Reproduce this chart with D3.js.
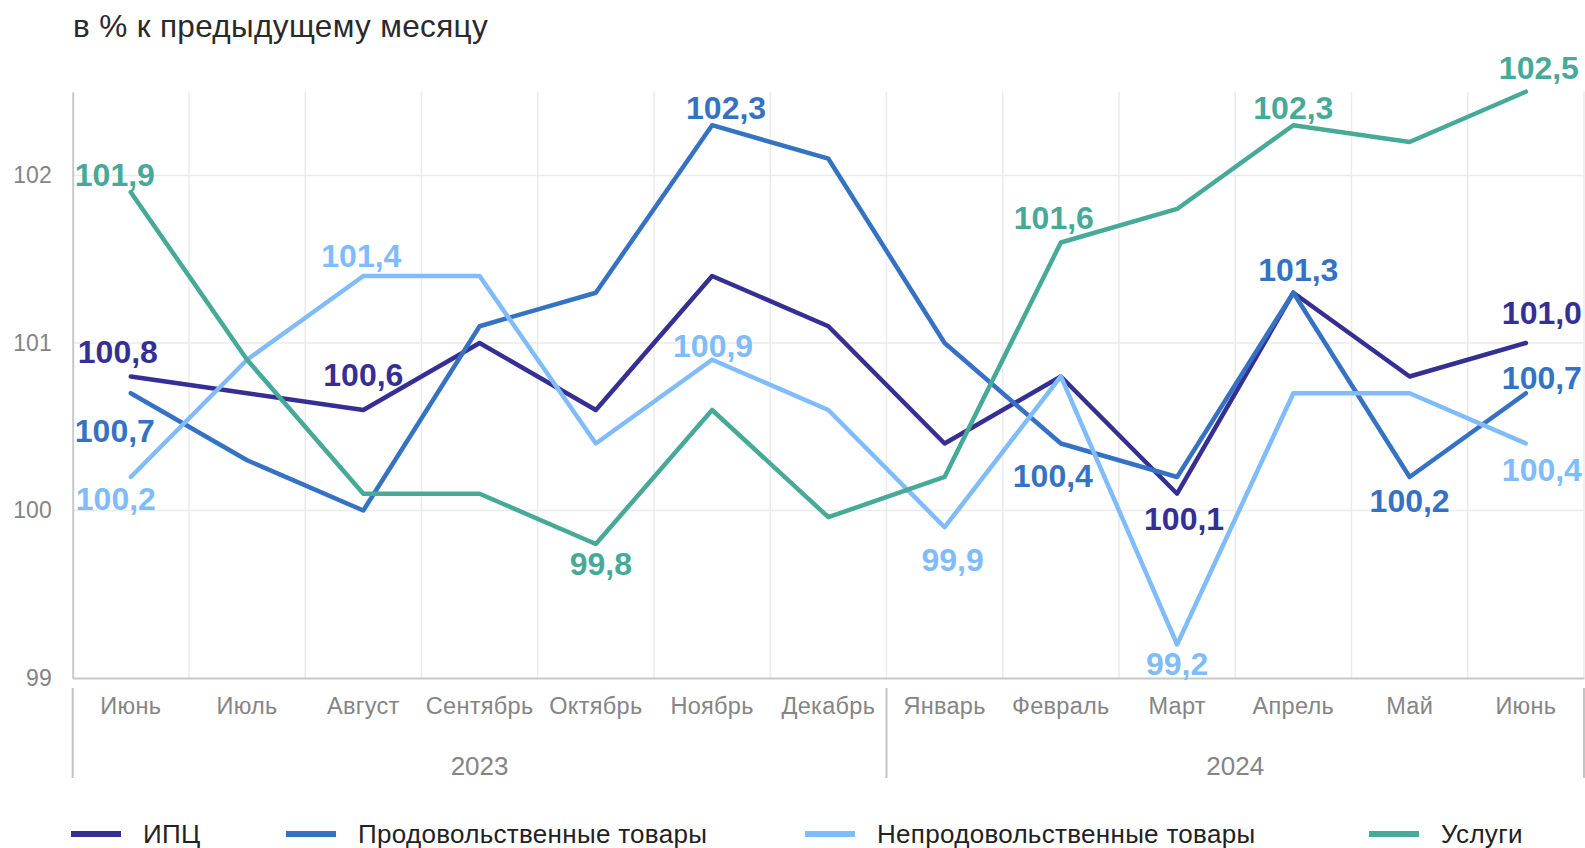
<!DOCTYPE html>
<html>
<head>
<meta charset="utf-8">
<script src="https://cdn.jsdelivr.net/npm/d3@7"></script>
<style>
  body { margin: 0; background: #fff; }
  svg { display: block; font-family: "Liberation Sans", Arial, sans-serif; }
</style>
</head>
<body>
<svg id="chart"></svg>
<script>
// DATA
const months = ['Июнь', 'Июль', 'Август', 'Сентябрь', 'Октябрь', 'Ноябрь', 'Декабрь',
                'Январь', 'Февраль', 'Март', 'Апрель', 'Май', 'Июнь']
const yearLabels = ['2023', '2024']
const yearMonthCounts = [7, 6]
const yTicks = [99, 100, 101, 102]

const seriesNames = ['ИПЦ', 'Продовольственные товары', 'Непродовольственные товары', 'Услуги']
const cpi      = [100.8, 100.7, 100.6, 101.0, 100.6, 101.4, 101.1, 100.4, 100.8, 100.1, 101.3, 100.8, 101.0]
const food     = [100.7, 100.3, 100.0, 101.1, 101.3, 102.3, 102.1, 101.0, 100.4, 100.2, 101.3, 100.2, 100.7]
const nonFood  = [100.2, 100.9, 101.4, 101.4, 100.4, 100.9, 100.6, 99.9, 100.8, 99.2, 100.7, 100.7, 100.4]
const services = [101.9, 100.9, 100.1, 100.1, 99.8, 100.6, 99.96, 100.2, 101.6, 101.8, 102.3, 102.2, 102.5]

// COLORS
const colors = ['#352f94', '#3572c4', '#80bcfa', '#47a997']
const gridColor = '#ebebeb'
const axisColor = '#c8c8c8'
const tickColor = '#858585'

// which points get a value label (series index, month index) + nudge
const labelSpots = [
  {s: 3, i: 0, dx: -16, dy: -6},  {s: 0, i: 0, dx: -13, dy: -13},
  {s: 1, i: 0, dx: -16, dy: 49},  {s: 2, i: 0, dx: -15, dy: 33},
  {s: 0, i: 2, dx: 0, dy: -24},   {s: 2, i: 2, dx: -2, dy: -9},
  {s: 3, i: 4, dx: 5, dy: 31},    {s: 1, i: 5, dx: 14, dy: -6},
  {s: 2, i: 5, dx: 1, dy: -3},    {s: 2, i: 7, dx: 8, dy: 44},
  {s: 3, i: 8, dx: -7, dy: -13},  {s: 1, i: 8, dx: -8, dy: 44},
  {s: 0, i: 9, dx: 7, dy: 36},    {s: 2, i: 9, dx: 0, dy: 31},
  {s: 3, i: 10, dx: 0, dy: -6},   {s: 1, i: 10, dx: 5, dy: -12},
  {s: 1, i: 11, dx: 0, dy: 35},   {s: 3, i: 12, dx: 13, dy: -13},
  {s: 0, i: 12, dx: 16, dy: -19}, {s: 1, i: 12, dx: 16, dy: -4},
  {s: 2, i: 12, dx: 16, dy: 38}
]
const legendX = [71, 286, 805, 1369]

var W = 1585, H = 848
var margin = {top: 91.7, right: 1, bottom: 170, left: 72.7}
var plotW = W - margin.left - margin.right
var plotH = H - margin.top - margin.bottom

var svg = d3.select('#chart').attr('width', W).attr('height', H)

// SCALES
var x = d3.scaleBand()
    .domain(d3.range(months.length))
    .range([margin.left, margin.left + plotW])
    .padding(0)
var y = d3.scaleLinear()
    .domain([99, 102.5])
    .range([margin.top + plotH, margin.top])

var allSeries = [cpi, food, nonFood, services]

// title
svg.append('text')
    .attr('x', 73).attr('y', 37)
    .attr('font-size', 31.5).attr('letter-spacing', 0.35).attr('fill', '#2a2a2a')
    .text('в % к предыдущему месяцу')

// vertical grid (band edges)
svg.append('g').selectAll('line')
  .data(d3.range(1, months.length + 1))
  .enter().append('line')
    .attr('x1', d => x(0) + d * x.bandwidth())
    .attr('x2', d => x(0) + d * x.bandwidth())
    .attr('y1', y(102.5)).attr('y2', y(99))
    .attr('stroke', gridColor).attr('stroke-width', 1.5)

// horizontal grid
svg.append('g').selectAll('line')
  .data(yTicks.slice(1))
  .enter().append('line')
    .attr('x1', margin.left).attr('x2', margin.left + plotW)
    .attr('y1', d => y(d)).attr('y2', d => y(d))
    .attr('stroke', gridColor).attr('stroke-width', 1.5)

// y axis
var yAxis = svg.append('g')
    .attr('transform', `translate(${margin.left},0)`)
    .call(d3.axisLeft(y).tickValues(yTicks).tickSize(0).tickPadding(21).tickFormat(d3.format('d')))
yAxis.select('.domain').attr('stroke', axisColor).attr('stroke-width', 2)
yAxis.selectAll('text').attr('font-size', 23).attr('fill', tickColor)
    .attr('font-family', '"Liberation Sans", Arial, sans-serif')

// x axis
var xAxis = svg.append('g')
    .attr('transform', `translate(0,${y(99)})`)
    .call(d3.axisBottom(x).tickSize(0).tickPadding(19).tickFormat(i => months[i]))
xAxis.select('.domain').attr('stroke', axisColor).attr('stroke-width', 2)
xAxis.selectAll('text').attr('font-size', 23.5).attr('letter-spacing', 0.3).attr('fill', tickColor)
    .attr('font-family', '"Liberation Sans", Arial, sans-serif')

// year groups
var starts = [0]
yearMonthCounts.forEach(function(c, k){ starts.push(starts[k] + c) })
var sepX = starts.map(s => x(0) + s * x.bandwidth())

svg.append('g').selectAll('line')
  .data(sepX)
  .enter().append('line')
    .attr('x1', d => d).attr('x2', d => d)
    .attr('y1', y(99) + 10).attr('y2', y(99) + 100)
    .attr('stroke', '#c4c4c4').attr('stroke-width', 2)

svg.append('g').selectAll('text')
  .data(yearLabels)
  .enter().append('text')
    .attr('x', (d, k) => (sepX[k] + sepX[k + 1]) / 2)
    .attr('y', y(99) + 97)
    .attr('text-anchor', 'middle')
    .attr('font-size', 26).attr('fill', tickColor)
    .text(d => d)

// lines
var line = d3.line()
    .x((d, i) => x(i) + x.bandwidth() / 2)
    .y(d => y(d))

svg.append('g').selectAll('path')
  .data(allSeries)
  .enter().append('path')
    .attr('d', line)
    .attr('fill', 'none')
    .attr('stroke', (d, k) => colors[k])
    .attr('stroke-width', 4.5)
    .attr('stroke-linejoin', 'round')
    .attr('stroke-linecap', 'round')

// value labels
var fmt = v => d3.format('.1f')(v).replace('.', ',')
svg.append('g').selectAll('text')
  .data(labelSpots)
  .enter().append('text')
    .attr('x', d => x(d.i) + x.bandwidth() / 2 + d.dx)
    .attr('y', d => y(allSeries[d.s][d.i]) + d.dy)
    .attr('text-anchor', 'middle')
    .attr('font-size', 32).attr('font-weight', 'bold')
    .attr('fill', d => colors[d.s])
    .text(d => fmt(allSeries[d.s][d.i]))

// legend
var legend = svg.append('g').selectAll('g')
  .data(seriesNames)
  .enter().append('g')
    .attr('transform', (d, k) => `translate(${legendX[k]},0)`)
legend.append('line')
    .attr('x1', 0).attr('x2', 50)
    .attr('y1', 834).attr('y2', 834)
    .attr('stroke', (d, k) => colors[k]).attr('stroke-width', 6)
legend.append('text')
    .attr('x', 72).attr('y', 843)
    .attr('font-size', 26).attr('letter-spacing', 0.3).attr('fill', '#222')
    .text(d => d)
</script>
</body>
</html>
